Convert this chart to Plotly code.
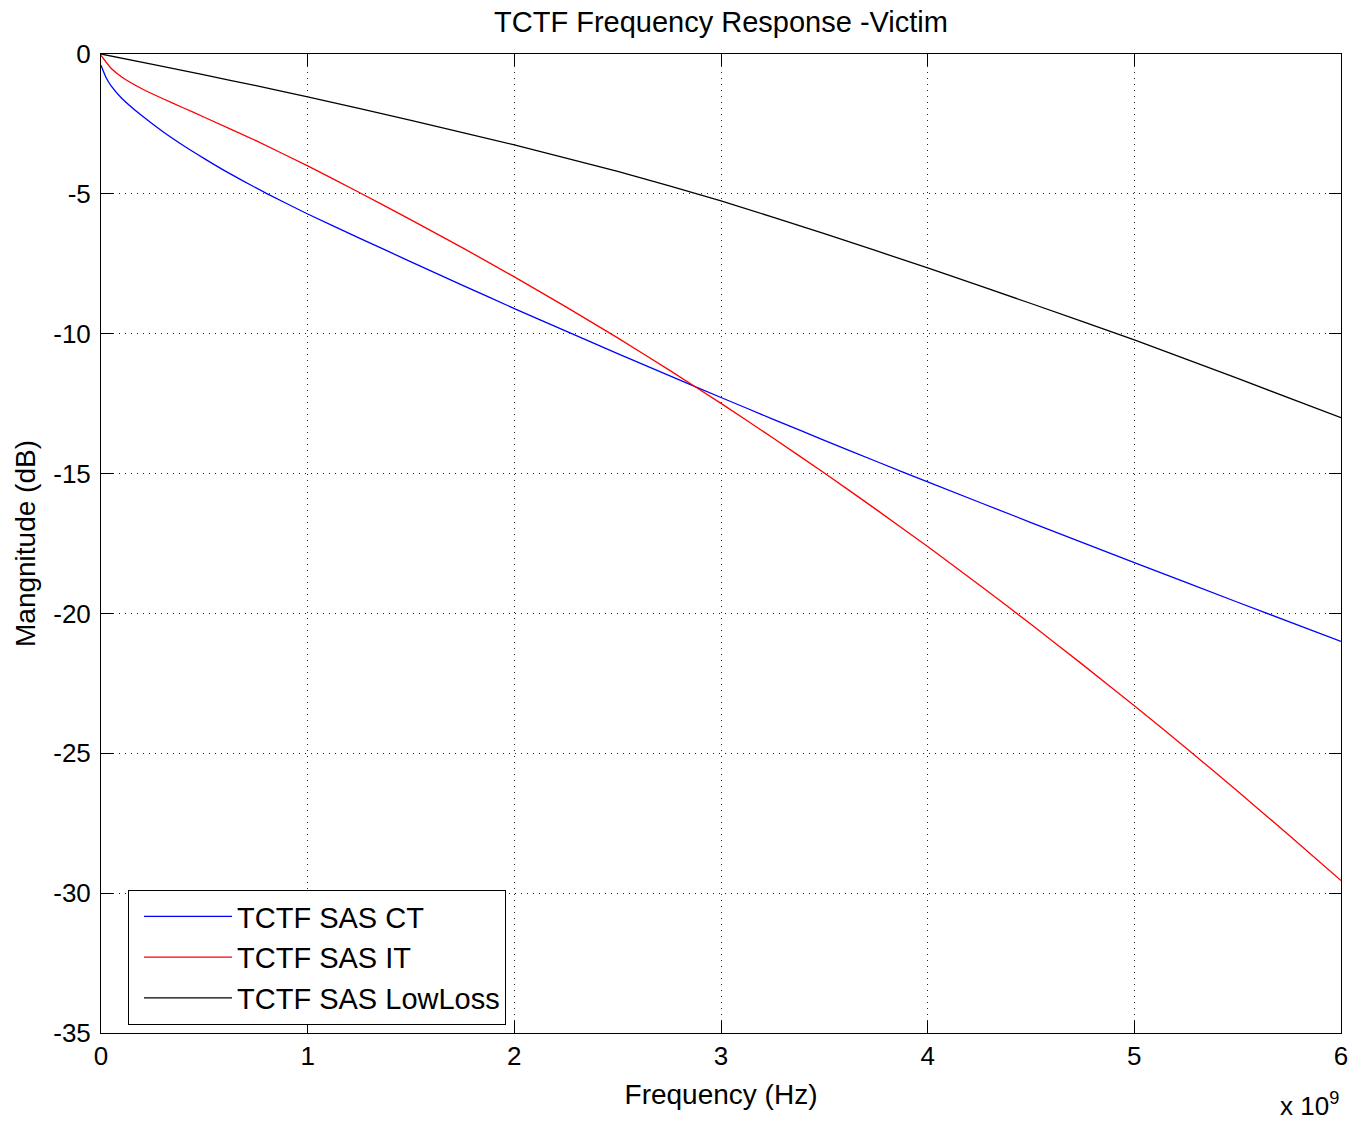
import plotly.graph_objects as go

# Frequency points (GHz) and magnitudes (dB) for each channel model
ct_freq_ghz = [0.0, 0.025, 0.05, 0.1, 0.2, 0.3, 0.4, 0.5, 0.6, 0.8, 1.0, 1.25, 1.5, 1.75,
               2.0, 2.25, 2.5, 2.75, 3.0, 3.25, 3.5, 3.75, 4.0, 4.5, 5.0, 5.5, 6.0]
ct_mag_db = [-0.4, -0.85, -1.15, -1.58, -2.22, -2.78, -3.28, -3.74, -4.18, -4.98, -5.72,
             -6.58, -7.43, -8.27, -9.1, -9.91, -10.71, -11.5, -12.28, -13.05, -13.81,
             -14.56, -15.3, -16.75, -18.18, -19.6, -21.0]

it_freq_ghz = [0.0, 0.05, 0.1, 0.2, 0.3, 0.4, 0.5, 0.75, 1.0, 1.25, 1.5, 1.75, 2.0, 2.25,
               2.5, 2.75, 3.0, 3.25, 3.5, 3.75, 4.0, 4.25, 4.5, 4.75, 5.0, 5.25, 5.5,
               5.75, 6.0]
it_mag_db = [-0.05, -0.52, -0.82, -1.25, -1.6, -1.93, -2.26, -3.1, -4.0, -4.95, -5.93,
             -6.93, -7.97, -9.04, -10.15, -11.3, -12.49, -13.72, -14.98, -16.28, -17.61,
             -18.98, -20.39, -21.83, -23.3, -24.81, -26.36, -27.94, -29.55]

ll_freq_ghz = [0.0, 0.25, 0.5, 0.75, 1.0, 1.5, 2.0, 2.5, 3.0, 3.5, 4.0, 4.5, 5.0, 5.5, 6.0]
ll_mag_db = [0.0, -0.37, -0.75, -1.13, -1.53, -2.37, -3.25, -4.2, -5.25, -6.42, -7.65,
             -8.92, -10.22, -11.6, -13.0]

series_names = ["TCTF SAS CT", "TCTF SAS IT", "TCTF SAS LowLoss"]
series_colors = ["#0000ff", "#ff0000", "#000000"]

x_tick_vals = [0, 1, 2, 3, 4, 5, 6]
y_tick_vals = [0, -5, -10, -15, -20, -25, -30, -35]

FONT = "Liberation Sans, Arial, sans-serif"

fig = go.Figure()
for fx, fy, name, color in zip(
    [ct_freq_ghz, it_freq_ghz, ll_freq_ghz],
    [ct_mag_db, it_mag_db, ll_mag_db],
    series_names,
    series_colors,
):
    fig.add_trace(go.Scatter(
        x=[v * 1e9 for v in fx], y=fy, mode="lines", name=name,
        line=dict(color=color, width=1.3, shape="spline", smoothing=0.5),
    ))

axis_common = dict(
    showline=True, linecolor="black", linewidth=1, mirror="ticks",
    ticks="inside", ticklen=12, tickcolor="black", tickwidth=1,
    showgrid=True, gridcolor="#222222", gridwidth=1, griddash="1px,5px",
    zeroline=False, automargin=False,
    tickfont=dict(family=FONT, size=26, color="black"),
)

fig.update_xaxes(
    range=[0, 6e9], tickvals=[v * 1e9 for v in x_tick_vals],
    ticktext=[str(v) for v in x_tick_vals],
    title=dict(text="Frequency (Hz)", font=dict(family=FONT, size=28, color="black"), standoff=14),
    **axis_common,
)
fig.update_yaxes(
    range=[-35, 0], tickvals=y_tick_vals, ticktext=[str(v) for v in y_tick_vals],
    ticklabelstandoff=4,
    title=dict(text="Mangnitude (dB)", font=dict(family=FONT, size=28, color="black"), standoff=9),
    **axis_common,
)

fig.add_annotation(
    text="x 10<sup>9</sup>", xref="paper", yref="paper", x=1.0, y=-0.0735,
    xanchor="right", yanchor="middle", showarrow=False,
    font=dict(family=FONT, size=26, color="black"),
)

fig.update_layout(
    width=1353, height=1121,
    margin=dict(l=101, r=12, t=54, b=88, autoexpand=False),
    paper_bgcolor="white", plot_bgcolor="white",
    title=dict(text="TCTF Frequency Response -Victim", x=0.5, xanchor="center", xref="paper",
               y=1 - 22 / 1121, yanchor="middle", yref="container",
               font=dict(family=FONT, size=29, color="black")),
    legend=dict(
        x=0.0218, y=0.146, xanchor="left", yanchor="top",
        bgcolor="white", bordercolor="black", borderwidth=1,
        font=dict(family=FONT, size=29, color="black"),
        itemwidth=88, indentation=10,
    ),
    showlegend=True,
)

fig.write_html("out.html")
